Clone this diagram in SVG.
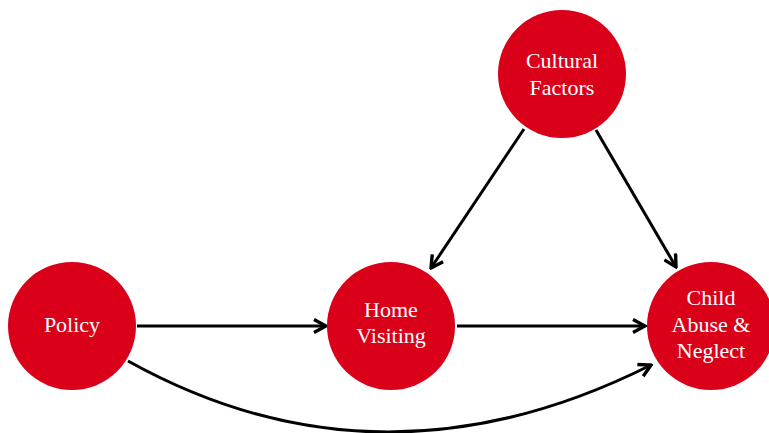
<svg xmlns="http://www.w3.org/2000/svg" width="769" height="433" viewBox="0 0 769 433">
<defs>
<style>
.node circle{fill:#da0019;}
.node text{fill:#ffffff;font-family:"Liberation Serif","DejaVu Serif",serif;font-size:22px;text-anchor:middle;}
.edge{stroke:#000;stroke-width:3;fill:none;}
</style>
<marker id="arr" viewBox="0 0 16 16" markerWidth="16" markerHeight="16" refX="14" refY="8" orient="auto" markerUnits="userSpaceOnUse">
<path d="M2,1.5 L14,8 L2,14.5" fill="none" stroke="#000" stroke-width="3.4"/>
</marker>
</defs>
<rect width="769" height="433" fill="#fff"/>
<g id="connectors">
<line class="edge" x1="137" y1="326" x2="326" y2="326" marker-end="url(#arr)"/>
<line class="edge" x1="457" y1="326" x2="645" y2="326" marker-end="url(#arr)"/>
<line class="edge" x1="524" y1="129" x2="431" y2="268" marker-end="url(#arr)"/>
<line class="edge" x1="596" y1="130" x2="676" y2="267" marker-end="url(#arr)"/>
<path class="edge" d="M128,361 Q380,501 651,365" marker-end="url(#arr)"/>
</g>
<g id="cultural" class="node">
<circle cx="562" cy="74" r="64"/>
<text x="562" y="68">Cultural</text>
<text x="562" y="95">Factors</text>
</g>
<g id="policy" class="node">
<circle cx="72" cy="326" r="64"/>
<text x="72" y="332">Policy</text>
</g>
<g id="home" class="node">
<circle cx="391" cy="326" r="64"/>
<text x="391" y="317">Home</text>
<text x="391" y="343">Visiting</text>
</g>
<g id="child" class="node">
<circle cx="711" cy="326" r="64"/>
<text x="711" y="305">Child</text>
<text x="711" y="332">Abuse &amp;</text>
<text x="711" y="358">Neglect</text>
</g>
</svg>
